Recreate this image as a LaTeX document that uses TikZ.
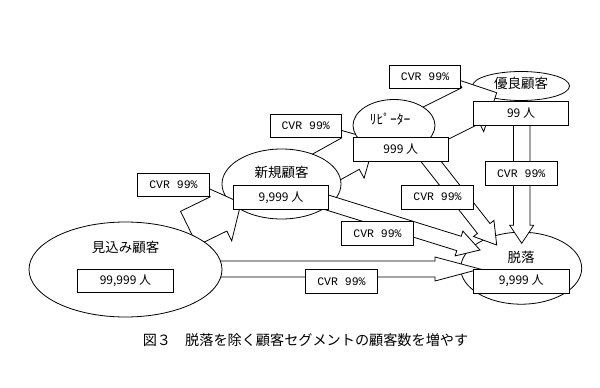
\documentclass[tikz,border=0pt]{standalone}
\usepackage{fontspec}
\setmainfont{Noto Sans CJK JP}
\newfontfamily\cvrfont{Liberation Mono}
\usetikzlibrary{calc,shapes.geometric}
\tikzset{
  ell/.style={ellipse, draw, fill=white, line width=0.8pt, inner sep=0pt},
  countbox/.style={draw, fill=white, line width=0.8pt, minimum width=95.5pt, minimum height=23.5pt, inner sep=0pt, font=\fontsize{12}{14}\selectfont},
  cvrbox/.style={draw, fill=white, line width=0.8pt, minimum width=71.5pt, minimum height=23.5pt, inner sep=0pt, font=\cvrfont\fontsize{11.5}{13}\selectfont},
  lbl/.style={inner sep=0pt, font=\fontsize{13.5}{16}\selectfont},
  arrowbody/.style={draw, fill=white, line width=0.8pt, line join=miter},
}
% tail, tip, shaft half width, head half width, head length
\newcommand\blockarrow[5]{%
  \coordinate (bah) at ($(#2)!#5!(#1)$);
  \draw[arrowbody] ($(#1)!#3!90:(#2)$) -- ($(bah)!#3!90:(#2)$) -- ($(bah)!#4!90:(#2)$) -- (#2)
    -- ($(bah)!#4!-90:(#2)$) -- ($(bah)!#3!-90:(#2)$) -- ($(#1)!#3!-90:(#2)$) -- cycle;}
\begin{document}
\begin{tikzpicture}[x=1pt,y=-1pt]
\useasboundingbox (0,0) rectangle (600,388);
\fill[white] (0,0) rectangle (600,388);

% arrow end points
\coordinate (t1) at (188.9,228.4); \coordinate (p1) at (241,203);
\coordinate (t2) at (215,269);     \coordinate (p2) at (480,269);
\coordinate (t3) at (300,194);     \coordinate (p3) at (480,250);
\coordinate (t5) at (422,150);     \coordinate (p5) at (496.7,245);
\coordinate (t6) at (521.7,115);   \coordinate (p6) at (521.7,243.3);
\coordinate (t7) at (425.1,128.4); \coordinate (p7) at (496.7,92.7);
\coordinate (t8) at (309.4,176.4); \coordinate (p8) at (375,140);

% lower layer
\node[ell, minimum width=121pt, minimum height=72pt] (dat) at (521.2,268.2) {};
\node[ell, minimum width=97pt, minimum height=29pt] (yur) at (521,86) {};
\blockarrow{t8}{p8}{18pt}{28pt}{28pt}
\blockarrow{t7}{p7}{20pt}{29pt}{29pt}
\node[ell, minimum width=119pt, minimum height=70pt] (shi) at (281.5,184) {};
\node[ell, minimum width=82pt, minimum height=52pt] (rep) at (394,125.5) {};

% arrows
\blockarrow{t1}{p1}{19pt}{30pt}{25pt}
\blockarrow{t2}{p2}{8pt}{12pt}{45pt}
\blockarrow{t3}{p3}{7.5pt}{13pt}{22pt}
\blockarrow{t5}{p5}{8pt}{13pt}{21pt}
\blockarrow{t6}{p6}{8.3pt}{12pt}{18pt}

\node[ell, minimum width=193pt, minimum height=95pt] (mik) at (125.5,269.5) {};

% labels
\node[lbl] (lmik) at (125.5,247.5) {見込み顧客};
\node[lbl] (lshi) at (281.5,172) {新規顧客};
\node[lbl] (lrep) at (390,119) {ﾘﾋﾟｰﾀｰ};
\node[lbl] (lyur) at (521,83.5) {優良顧客};
\node[lbl] (ldat) at (521,257.3) {脱落};

% count boxes
\node[countbox] (cmik) at (125.5,281) {99,999 人};
\node[countbox] (cshi) at (281,197.5) {9,999 人};
\node[countbox] (crep) at (400.8,149.2) {999 人};
\node[countbox, minimum height=23.3pt] (cyur) at (521,113.3) {99 人};
\node[countbox, minimum height=24.3pt] (cdat) at (521.2,281.2) {9,999 人};

% CVR boxes
\node[cvrbox] (v1) at (173.5,185) {CVR 99\%};
\node[cvrbox] (v2) at (305.7,125.7) {CVR 99\%};
\node[cvrbox] (v3) at (425,76.7) {CVR 99\%};
\node[cvrbox] (v4) at (521.2,173.3) {CVR 99\%};
\node[cvrbox] (v5) at (437.5,197.2) {CVR 99\%};
\node[cvrbox] (v6) at (377.5,233.3) {CVR 99\%};
\node[cvrbox] (v7) at (341.5,281.3) {CVR 99\%};

% caption
\node[inner sep=0pt, font=\fontsize{14.15}{16}\selectfont] (cap) at (305.5,340) {図３　脱落を除く顧客セグメントの顧客数を増やす};
\end{tikzpicture}
\end{document}
